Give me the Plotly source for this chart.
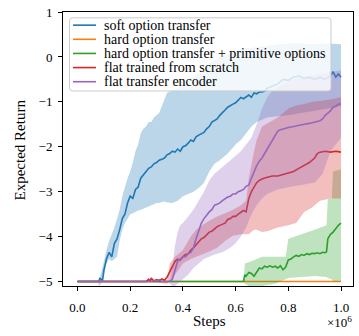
import plotly.graph_objects as go

# ---------------- data (x in units of 1e6 steps) ----------------
names = ["soft option transfer", "hard option transfer",
         "hard option transfer + primitive options",
         "flat trained from scratch", "flat transfer encoder"]
colors = ["#1f77b4", "#ff7f0e", "#2ca02c", "#d62728", "#9467bd"]
fills = ["rgba(31,119,180,0.3)", "rgba(255,127,14,0.3)", "rgba(44,160,44,0.3)",
         "rgba(214,39,40,0.3)", "rgba(148,103,189,0.3)"]

blue_x = [0.0, 0.08, 0.085, 0.095, 0.10, 0.11, 0.12, 0.13, 0.14, 0.15, 0.16, 0.17, 0.18, 0.19,
          0.20, 0.21, 0.22, 0.23, 0.24, 0.25, 0.26, 0.27, 0.28, 0.29, 0.30, 0.31, 0.32, 0.33,
          0.34, 0.35, 0.36, 0.37, 0.38, 0.39, 0.40, 0.41, 0.42, 0.43, 0.44, 0.45, 0.46, 0.47,
          0.48, 0.49, 0.50, 0.51, 0.52, 0.53, 0.54, 0.55, 0.56, 0.57, 0.58, 0.59, 0.60, 0.61,
          0.62, 0.63, 0.64, 0.65, 0.66, 0.67, 0.68, 0.69, 0.70, 0.71, 0.72, 0.74, 0.76, 0.78,
          0.80, 0.82, 0.84, 0.86, 0.88, 0.90, 0.92, 0.94, 0.96, 0.97, 0.98, 0.99, 1.00]
blue_y = [-5.0, -5.0, -4.93, -4.97, -4.75, -4.5, -4.35, -4.45, -4.15, -4.05, -3.85, -3.6, -3.5,
          -3.25, -3.1, -3.15, -2.95, -2.9, -2.7, -2.62, -2.55, -2.48, -2.45, -2.38, -2.35, -2.3,
          -2.28, -2.25, -2.18, -2.15, -2.1, -2.12, -2.05, -2.1, -2.0, -1.98, -1.92, -1.85, -1.88,
          -1.78, -1.74, -1.7, -1.68, -1.6, -1.55, -1.45, -1.42, -1.38, -1.3, -1.25, -1.18, -1.12,
          -1.08, -1.05, -1.02, -0.95, -0.9, -0.93, -0.88, -0.85, -0.9, -0.8, -0.82, -0.78, -0.78,
          -0.76, -0.7, -0.65, -0.6, -0.5, -0.52, -0.45, -0.42, -0.48, -0.45, -0.5, -0.45, -0.5,
          -0.42, -0.33, -0.45, -0.38, -0.45]
blue_band_x = [0.08, 0.09, 0.10, 0.11, 0.12, 0.13, 0.14, 0.15, 0.16, 0.17, 0.18, 0.19, 0.20,
               0.21, 0.22, 0.23, 0.24, 0.25, 0.26, 0.27, 0.28, 0.29, 0.30, 0.31, 0.32, 0.33,
               0.34, 0.36, 0.38, 0.40, 0.42, 0.44, 0.46, 0.48, 0.50, 0.52, 0.54, 0.57, 0.60,
               0.62, 0.64, 0.66, 0.68, 0.72, 0.76, 0.80, 0.85, 0.90, 0.95, 1.00]
blue_hi = [-5.0, -4.8, -4.55, -4.3, -4.1, -3.95, -3.8, -3.6, -3.4, -3.1, -2.9, -2.7, -2.55,
           -2.35, -2.1, -1.95, -1.7, -1.6, -1.55, -1.45, -1.45, -1.35, -1.3, -1.25, -1.1, -0.95,
           -0.8, -0.75, -0.7, -0.6, -0.55, -0.45, -0.38, -0.3, -0.15, -0.08, 0.0, 0.05, 0.1,
           0.15, 0.2, 0.2, 0.22, 0.25, 0.28, 0.3, 0.3, 0.28, 0.3, 0.28]
blue_lo = [-5.1, -5.05, -4.9, -4.6, -4.5, -4.55, -4.5, -4.45, -4.1, -3.85, -3.7, -3.6, -3.5,
           -3.48, -3.45, -3.42, -3.4, -3.38, -3.35, -3.33, -3.3, -3.28, -3.25, -3.25, -3.23,
           -3.22, -3.24, -3.25, -3.2, -3.1, -3.05, -3.0, -2.92, -2.8, -2.55, -2.38, -2.3, -2.15,
           -1.95, -1.85, -1.7, -1.55, -1.45, -1.35, -1.32, -1.3, -1.25, -1.2, -1.15, -1.1]

orange_x = [0.0, 1.0]
orange_y = [-5.0, -5.0]

green_x = [0.0, 0.63, 0.635, 0.64, 0.65, 0.66, 0.67, 0.68, 0.69, 0.70, 0.71, 0.72, 0.73, 0.74,
           0.75, 0.76, 0.77, 0.78, 0.79, 0.80, 0.81, 0.82, 0.83, 0.84, 0.85, 0.86, 0.87, 0.88,
           0.89, 0.90, 0.91, 0.92, 0.93, 0.94, 0.945, 0.95, 0.96, 0.97, 0.98, 0.99, 1.00]
green_y = [-5.0, -5.0, -4.85, -4.88, -4.8, -4.82, -4.88, -4.8, -4.7, -4.72, -4.66, -4.68, -4.65,
           -4.68, -4.66, -4.7, -4.65, -4.74, -4.68, -4.52, -4.5, -4.45, -4.42, -4.44, -4.4,
           -4.42, -4.38, -4.4, -4.37, -4.38, -4.36, -4.38, -4.35, -4.36, -4.34, -4.05, -3.95,
           -3.9, -3.82, -3.75, -3.7]
green_band_x = [0.63, 0.635, 0.66, 0.70, 0.75, 0.79, 0.80, 0.85, 0.90, 0.945, 0.95, 0.965,
                0.97, 1.0]
green_hi = [-5.0, -4.6, -4.55, -4.45, -4.45, -4.45, -4.05, -3.95, -3.85, -3.75, -3.17, -3.15,
            -2.55, -2.5]
green_lo = [-5.0, -5.05, -5.13, -5.1, -5.05, -4.95, -4.92, -4.9, -4.88, -4.9, -4.92, -4.95,
            -5.0, -5.0]

red_x = [0.0, 0.26, 0.27, 0.275, 0.28, 0.29, 0.30, 0.31, 0.32, 0.33, 0.34, 0.35, 0.36, 0.37,
         0.38, 0.39, 0.40, 0.41, 0.42, 0.43, 0.44, 0.45, 0.46, 0.47, 0.48, 0.49, 0.50, 0.51,
         0.52, 0.53, 0.54, 0.55, 0.56, 0.57, 0.58, 0.59, 0.60, 0.61, 0.62, 0.63, 0.64, 0.645,
         0.65, 0.66, 0.67, 0.68, 0.69, 0.70, 0.72, 0.74, 0.76, 0.78, 0.80, 0.82, 0.84, 0.86,
         0.88, 0.90, 0.91, 0.92, 0.94, 0.96, 0.98, 1.00]
red_y = [-5.0, -5.0, -4.95, -5.0, -4.92, -5.0, -4.96, -4.98, -4.94, -4.97, -4.9, -4.78, -4.65,
         -4.55, -4.5, -4.52, -4.45, -4.4, -4.38, -4.3, -4.25, -4.18, -4.1, -4.05, -4.02, -3.95,
         -3.9, -3.88, -3.82, -3.78, -3.75, -3.72, -3.7, -3.62, -3.6, -3.55, -3.55, -3.5, -3.45,
         -3.42, -3.45, -3.3, -3.15, -3.0, -2.9, -2.8, -2.75, -2.72, -2.68, -2.65, -2.65, -2.62,
         -2.58, -2.55, -2.48, -2.42, -2.35, -2.25, -2.15, -2.12, -2.1, -2.12, -2.1, -2.12]
red_band_x = [0.26, 0.34, 0.35, 0.37, 0.40, 0.43, 0.45, 0.48, 0.50, 0.53, 0.56, 0.59, 0.62,
              0.64, 0.65, 0.66, 0.67, 0.68, 0.70, 0.72, 0.76, 0.80, 0.83, 0.86, 0.89, 0.92,
              0.96, 1.0]
red_hi = [-5.0, -5.0, -4.6, -4.45, -4.3, -4.0, -3.85, -3.72, -3.65, -3.55, -3.48, -3.4, -3.3,
          -3.2, -2.7, -2.4, -2.1, -1.85, -1.55, -1.48, -1.35, -1.15, -1.08, -1.05, -1.0, -0.98,
          -0.95, -0.9]
red_lo = [-5.0, -5.05, -5.0, -4.85, -4.6, -4.5, -4.45, -4.38, -4.33, -4.25, -4.1, -3.98, -3.95,
          -3.95, -3.95, -3.9, -3.85, -3.85, -3.9, -3.88, -3.8, -3.75, -3.7, -3.45, -3.35, -3.2,
          -3.15, -3.15]

purple_x = [0.0, 0.28, 0.29, 0.30, 0.31, 0.32, 0.35, 0.36, 0.37, 0.38, 0.39, 0.40, 0.41, 0.42,
            0.43, 0.44, 0.45, 0.46, 0.47, 0.48, 0.49, 0.50, 0.51, 0.52, 0.53, 0.54, 0.55, 0.56,
            0.57, 0.58, 0.59, 0.60, 0.61, 0.62, 0.63, 0.64, 0.65, 0.66, 0.67, 0.68, 0.69, 0.70,
            0.71, 0.72, 0.73, 0.74, 0.75, 0.76, 0.77, 0.78, 0.80, 0.82, 0.84, 0.86, 0.88, 0.90,
            0.92, 0.93, 0.94, 0.95, 0.96, 0.97, 0.98, 0.99, 1.00]
purple_y = [-5.0, -5.0, -4.97, -5.0, -4.96, -5.0, -5.0, -4.95, -4.75, -4.55, -4.5, -4.45, -4.45,
            -4.38, -4.35, -4.25, -4.05, -3.85, -3.7, -3.6, -3.52, -3.45, -3.4, -3.3, -3.28,
            -3.25, -3.2, -3.15, -3.12, -3.1, -3.05, -3.05, -3.0, -2.98, -2.95, -2.88, -2.85,
            -2.7, -2.55, -2.42, -2.32, -2.25, -2.15, -2.05, -1.95, -1.88, -1.75, -1.65, -1.62,
            -1.6, -1.57, -1.55, -1.52, -1.5, -1.48, -1.45, -1.42, -1.38, -1.3, -1.25, -1.2,
            -1.12, -1.1, -1.05, -1.05]
purple_band_x = [0.35, 0.36, 0.37, 0.38, 0.39, 0.40, 0.42, 0.44, 0.46, 0.48, 0.50, 0.52, 0.55,
                 0.58, 0.60, 0.62, 0.64, 0.66, 0.68, 0.70, 0.72, 0.74, 0.76, 0.78, 0.80, 0.82,
                 0.85, 0.88, 0.90, 0.93, 0.96, 1.0]
purple_hi = [-5.0, -4.7, -4.2, -3.9, -3.75, -3.7, -3.55, -3.4, -3.2, -3.0, -2.75, -2.6, -2.45,
             -2.3, -2.2, -2.1, -1.95, -1.8, -1.5, -1.15, -0.9, -0.75, -0.68, -0.6, -0.55, -0.5,
             -0.45, -0.42, -0.4, -0.37, -0.33, -0.3]
purple_lo = [-5.05, -5.1, -5.1, -5.05, -5.0, -4.95, -4.85, -4.7, -4.6, -4.5, -4.45, -4.4, -4.35,
             -4.25, -4.15, -4.0, -3.8, -3.5, -3.3, -3.15, -3.05, -3.0, -2.95, -2.93, -2.9, -2.88,
             -2.85, -2.82, -2.8, -2.6, -2.1, -1.8]

x_ticks = [0.0, 0.2, 0.4, 0.6, 0.8, 1.0]
x_tick_labels = ["0.0", "0.2", "0.4", "0.6", "0.8", "1.0"]
y_ticks = [-5, -4, -3, -2, -1, 0, 1]
y_tick_labels = ["\u22125", "\u22124", "\u22123", "\u22122", "\u22121", "0", "1"]

lines = [(blue_x, blue_y), (orange_x, orange_y), (green_x, green_y), (red_x, red_y),
         (purple_x, purple_y)]
bands = [(blue_band_x, blue_lo, blue_hi), None, (green_band_x, green_lo, green_hi),
         (red_band_x, red_lo, red_hi), (purple_band_x, purple_lo, purple_hi)]

SERIF = "Liberation Serif, Times New Roman, serif"

fig = go.Figure()
for i in range(5):
    b = bands[i]
    if b is not None:
        bx, lo, hi = b
        fig.add_trace(go.Scatter(x=list(bx) + list(bx)[::-1], y=list(hi) + list(lo)[::-1],
                                 fill="toself", fillcolor=fills[i], mode="none",
                                 hoverinfo="skip", showlegend=False))
    lx, ly = lines[i]
    fig.add_trace(go.Scatter(x=lx, y=ly, mode="lines", name=names[i],
                             line=dict(color=colors[i], width=1.6), showlegend=False))

# ---------------- layout ----------------
W, H = 359, 336
ML, MR, MT, MB = 63, 6, 5, 50
PW, PH = W - ML - MR, H - MT - MB


def px(xp):
    return (xp - ML) / PW


def py(yp):
    return (H - MB - yp) / PH


axis_common = dict(showline=True, linecolor="black", linewidth=1, mirror=True,
                   ticks="outside", ticklen=4, tickwidth=1, tickcolor="black",
                   showgrid=False, zeroline=False, ticklabeloverflow="allow",
                   tickfont=dict(family=SERIF, size=13, color="black"))

fig.update_layout(
    width=W, height=H, margin=dict(l=ML, r=MR, t=MT, b=MB),
    paper_bgcolor="white", plot_bgcolor="white", showlegend=False,
    xaxis=dict(range=[-0.055, 1.0455], tickvals=x_ticks, ticktext=x_tick_labels,
               ticklabelstandoff=5, **axis_common),
    yaxis=dict(range=[-5.1, 1.0005], tickvals=y_ticks, ticktext=y_tick_labels,
               ticklabelstandoff=3, **axis_common),
)

annotations = [
    dict(text="Steps", x=px(209), y=py(322), xref="paper", yref="paper",
         showarrow=False, xanchor="center", yanchor="middle",
         font=dict(family=SERIF, size=15, color="black")),
    dict(text="\u00d710<sup>6</sup>", x=px(354), y=py(323), xref="paper", yref="paper",
         showarrow=False, xanchor="right", yanchor="middle",
         font=dict(family=SERIF, size=13, color="black")),
    dict(text="Expected Return", x=px(20), y=py(147), xref="paper", yref="paper",
         showarrow=False, xanchor="center", yanchor="middle", textangle=-90,
         font=dict(family=SERIF, size=15, color="black")),
]

# legend box (drawn manually to match compact matplotlib legend)
lx0, lx1, ly0, ly1, r = px(69.5), px(331), py(11), py(86), 3
rx, ry = r / PW, r / PH
path = (f"M {lx0 + rx} {ly0} L {lx1 - rx} {ly0} Q {lx1} {ly0} {lx1} {ly0 - ry} "
        f"L {lx1} {ly1 + ry} Q {lx1} {ly1} {lx1 - rx} {ly1} "
        f"L {lx0 + rx} {ly1} Q {lx0} {ly1} {lx0} {ly1 + ry} "
        f"L {lx0} {ly0 - ry} Q {lx0} {ly0} {lx0 + rx} {ly0} Z")
shapes = [dict(type="path", path=path, xref="paper", yref="paper", layer="above",
               fillcolor="rgba(255,255,255,0.8)", line=dict(color="#cccccc", width=1))]
entry_y = [18.5, 33.0, 47.5, 62.0, 76.5]
for i in range(5):
    yy = py(entry_y[i])
    shapes.append(dict(type="line", xref="paper", yref="paper", layer="above",
                       x0=px(73), x1=px(96), y0=yy, y1=yy,
                       line=dict(color=colors[i], width=1.6)))
    annotations.append(dict(text=names[i], x=px(101.5), y=yy, xref="paper", yref="paper",
                            showarrow=False, xanchor="left", yanchor="middle",
                            font=dict(family=SERIF, size=14, color="black")))

fig.update_layout(shapes=shapes, annotations=annotations)
fig.write_html("out.html")
